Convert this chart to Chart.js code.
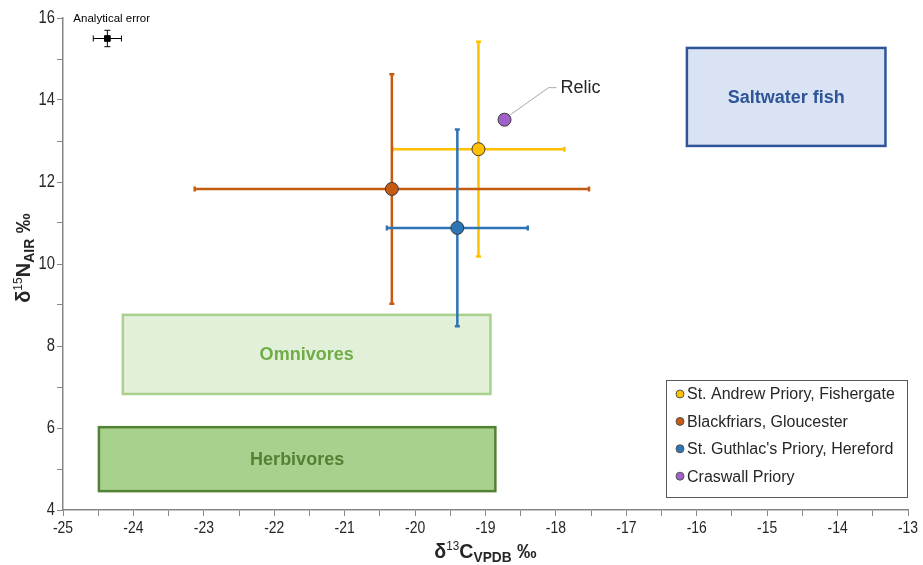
<!DOCTYPE html>
<html>
<head>
<meta charset="utf-8">
<script src="https://cdn.jsdelivr.net/npm/chart.js@4/dist/chart.umd.min.js"></script>
<style>
  body { margin: 0; background: #fff; }
  #wrap { width: 923px; height: 565px; position: relative; }
</style>
</head>
<body>
<div id="wrap"><canvas id="myChart" width="923" height="565"></canvas></div>
<script>
// site data: mean values and error (+/-)
var siteNames = ['St. Andrew Priory, Fishergate', 'Blackfriars, Gloucester', "St. Guthlac's Priory, Hereford", 'Craswall Priory']
var siteColors = ['#FFC000', '#C55A11', '#2E75B6', '#A05FCB']
var carbonMean = [-19.1, -20.33, -19.4, -18.73]
var nitrogenMean = [12.8, 11.83, 10.88, 13.52]
var carbonErr = [1.22, 2.8, 1.0, 0]
var nitrogenErr = [2.62, 2.8, 2.4, 0]

// analytical error marker
var analyticalPoint = [-24.37, 15.5]
var analyticalErr = [0.2, 0.2]

// food reference boxes: [xMin, xMax, yMin, yMax]
var boxNames = ['Saltwater fish', 'Omnivores', 'Herbivores']
var boxRanges = [
    [-16.14, -13.32, 12.88, 15.27],
    [-24.15, -18.93, 6.83, 8.76],
    [-24.49, -18.86, 4.46, 6.02]
]
var boxFill = ['#DAE3F3', '#E2F0D9', '#A9D18E']
var boxBorder = ['#2F5597', '#A9D18E', '#548235']
var boxText = ['#2F5597', '#70AD47', '#548235']

var xRange = [-25, -13]
var yRange = [4, 16]

var textFont = "'Liberation Sans', Arial, sans-serif"
var squeeze = 0.82 // narrow look of the axis font

var datasets = siteNames.map(function (name, i) {
    return {
        label: name,
        data: [{ x: carbonMean[i], y: nitrogenMean[i] }],
        backgroundColor: siteColors[i],
        borderColor: '#3a3a3a',
        borderWidth: 1,
        pointRadius: 6.5,
        pointHoverRadius: 6.5
    }
})
datasets.push({
    label: 'Analytical error',
    data: [{ x: analyticalPoint[0], y: analyticalPoint[1] }],
    backgroundColor: '#000',
    borderColor: '#000',
    pointStyle: 'rect',
    pointRadius: 4,
    pointHoverRadius: 4
})

// draws a bar with small caps at both ends
function errLine(ctx, x1, y1, x2, y2, horiz, cap) {
    ctx.beginPath()
    ctx.moveTo(x1, y1)
    ctx.lineTo(x2, y2)
    if (horiz) {
        ctx.moveTo(x1, y1 - cap); ctx.lineTo(x1, y1 + cap)
        ctx.moveTo(x2, y2 - cap); ctx.lineTo(x2, y2 + cap)
    } else {
        ctx.moveTo(x1 - cap, y1); ctx.lineTo(x1 + cap, y1)
        ctx.moveTo(x2 - cap, y2); ctx.lineTo(x2 + cap, y2)
    }
    ctx.stroke()
}

// narrow text drawn with a horizontal squeeze
function narrowText(ctx, txt, x, y, align) {
    ctx.save()
    ctx.translate(x, y)
    ctx.scale(squeeze, 1)
    ctx.textAlign = align
    ctx.fillText(txt, 0, 0)
    ctx.restore()
}

function supSubText(ctx, parts, x, y, sq) {
    // parts: [text, size, bold, yOffset]
    var total = 0
    parts.forEach(function (p) {
        ctx.font = (p[2] ? 'bold ' : '') + p[1] + 'px ' + textFont
        total += ctx.measureText(p[0]).width
    })
    ctx.save()
    ctx.translate(x, y)
    ctx.scale(sq, 1)
    var cx = -total / 2
    ctx.textAlign = 'left'
    parts.forEach(function (p) {
        ctx.font = (p[2] ? 'bold ' : '') + p[1] + 'px ' + textFont
        ctx.fillText(p[0], cx, p[3])
        cx += ctx.measureText(p[0]).width
    })
    ctx.restore()
}

var extras = {
    id: 'extras',
    beforeDatasetsDraw: function (chart) {
        var ctx = chart.ctx
        var xs = chart.scales.x, ys = chart.scales.y
        ctx.save()
        // reference boxes
        boxRanges.forEach(function (b, i) {
            var l = xs.getPixelForValue(b[0]), r = xs.getPixelForValue(b[1])
            var t = ys.getPixelForValue(b[3]), btm = ys.getPixelForValue(b[2])
            ctx.fillStyle = boxFill[i]
            ctx.fillRect(l, t, r - l, btm - t)
            ctx.strokeStyle = boxBorder[i]
            ctx.lineWidth = 2.5
            ctx.strokeRect(l, t, r - l, btm - t)
            ctx.fillStyle = boxText[i]
            ctx.font = 'bold 18px ' + textFont
            ctx.textAlign = 'center'
            ctx.textBaseline = 'middle'
            ctx.fillText(boxNames[i], (l + r) / 2, (t + btm) / 2 + 1)
        })
        // error bars for sites
        ctx.lineWidth = 2.5
        siteNames.forEach(function (n, i) {
            if (!carbonErr[i] && !nitrogenErr[i]) return
            var cx = xs.getPixelForValue(carbonMean[i]), cy = ys.getPixelForValue(nitrogenMean[i])
            ctx.strokeStyle = siteColors[i]
            errLine(ctx, cx, ys.getPixelForValue(nitrogenMean[i] + nitrogenErr[i]), cx, ys.getPixelForValue(nitrogenMean[i] - nitrogenErr[i]), false, 2.5)
            errLine(ctx, xs.getPixelForValue(carbonMean[i] - carbonErr[i]), cy, xs.getPixelForValue(carbonMean[i] + carbonErr[i]), cy, true, 2.5)
        })
        // analytical error bars
        var ax = xs.getPixelForValue(analyticalPoint[0]), ay = ys.getPixelForValue(analyticalPoint[1])
        ctx.strokeStyle = '#000'
        ctx.lineWidth = 1
        errLine(ctx, xs.getPixelForValue(analyticalPoint[0] - analyticalErr[0]), ay, xs.getPixelForValue(analyticalPoint[0] + analyticalErr[0]), ay, true, 3)
        errLine(ctx, ax, ys.getPixelForValue(analyticalPoint[1] + analyticalErr[1]), ax, ys.getPixelForValue(analyticalPoint[1] - analyticalErr[1]), false, 3)
        ctx.restore()
    },
    afterDraw: function (chart) {
        var ctx = chart.ctx
        var xs = chart.scales.x, ys = chart.scales.y
        ctx.save()
        // tick labels
        ctx.fillStyle = '#262626'
        ctx.font = '17px ' + textFont
        ctx.textBaseline = 'middle'
        xs.ticks.forEach(function (t) {
            if (Number.isInteger(t.value)) narrowText(ctx, String(t.value), xs.getPixelForValue(t.value), 528, 'center')
        })
        ctx.font = '18px ' + textFont
        ys.ticks.forEach(function (t) {
            if (t.value % 2 === 0) narrowText(ctx, String(t.value), 55, ys.getPixelForValue(t.value), 'right')
        })
        // analytical error label
        ctx.fillStyle = '#000'
        ctx.font = '11.5px ' + textFont
        ctx.textAlign = 'left'
        ctx.fillText('Analytical error', xs.getPixelForValue(analyticalPoint[0]) - 34, ys.getPixelForValue(16) + 1)
        // relic annotation
        var px = xs.getPixelForValue(carbonMean[3]), py = ys.getPixelForValue(nitrogenMean[3])
        ctx.strokeStyle = '#A6A6A6'
        ctx.lineWidth = 1
        ctx.beginPath()
        ctx.moveTo(px + 6, py - 5)
        ctx.lineTo(px + 44, py - 32)
        ctx.lineTo(px + 52, py - 32)
        ctx.stroke()
        ctx.fillStyle = '#262626'
        ctx.font = '18px ' + textFont
        ctx.fillText('Relic', px + 56, py - 32)
        // legend box
        ctx.strokeStyle = '#595959'
        ctx.lineWidth = 1
        ctx.strokeRect(666.5, 380.5, 241, 117)
        siteNames.forEach(function (n, i) {
            var yy = 394 + i * 27.4
            ctx.beginPath()
            ctx.arc(680, yy, 4, 0, Math.PI * 2)
            ctx.fillStyle = siteColors[i]
            ctx.fill()
            ctx.strokeStyle = '#555'
            ctx.stroke()
            ctx.fillStyle = '#262626'
            ctx.font = '16px ' + textFont
            ctx.fillText(n, 687, yy + 1)
        })
        // axis titles
        ctx.fillStyle = '#262626'
        ctx.textBaseline = 'alphabetic'
        var mid = (chart.chartArea.left + chart.chartArea.right) / 2
        supSubText(ctx, [['δ', 20, true, 0], ['13', 12, false, -8], ['C', 20, true, 0], ['VPDB', 14, true, 4], [' ‰', 20, true, 0]], mid, 558, 0.98)
        ctx.translate(30, (chart.chartArea.top + chart.chartArea.bottom) / 2 - 6)
        ctx.rotate(-Math.PI / 2)
        supSubText(ctx, [['δ', 20, true, 0], ['15', 12, false, -8], ['N', 20, true, 0], ['AIR', 14, true, 4], [' ‰', 20, true, 0]], 0, 0, 1.0)
        ctx.restore()
    }
}

var ctx = document.getElementById('myChart')
var myChart = new Chart(ctx, {
    type: 'scatter',
    data: { datasets: datasets },
    options: {
        responsive: false,
        animation: false,
        layout: { padding: { top: 18, right: 15, left: 0, bottom: 0 } },
        plugins: {
            legend: { display: false },
            tooltip: { enabled: false }
        },
        scales: {
            x: {
                type: 'linear',
                min: xRange[0],
                max: xRange[1],
                afterFit: function (s) { s.height = 55 },
                ticks: {
                    stepSize: 0.5,
                    autoSkip: false,
                    maxRotation: 0,
                    callback: function () { return '' }
                },
                grid: { drawOnChartArea: false, drawTicks: true, tickLength: 6, color: '#868686' },
                border: { color: '#868686', width: 1.5 }
            },
            y: {
                type: 'linear',
                min: yRange[0],
                max: yRange[1],
                afterFit: function (s) { s.width = 63 },
                ticks: {
                    stepSize: 1,
                    autoSkip: false,
                    callback: function () { return '' }
                },
                grid: { drawOnChartArea: false, drawTicks: true, tickLength: 6, color: '#868686' },
                border: { color: '#868686', width: 1.5 }
            }
        }
    },
    plugins: [extras]
})
</script>
</body>
</html>
